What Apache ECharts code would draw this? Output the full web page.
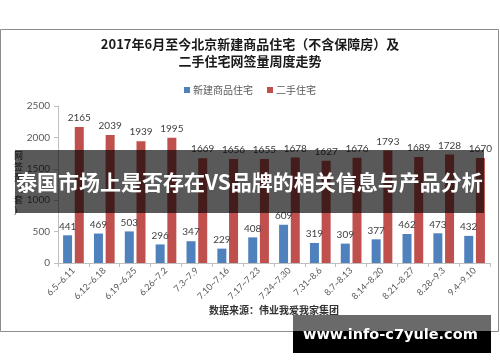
<!DOCTYPE html>
<html><head><meta charset="utf-8">
<script src="https://cdn.jsdelivr.net/npm/echarts@6/dist/echarts.min.js"></script>
<style>html,body{margin:0;padding:0;background:#fff}#c{width:500px;height:362px}</style>
</head><body><div id="c"></div>
<script>
const categories = ['6.5~6.11','6.12~6.18','6.19~6.25','6.26~7.2','7.3~7.9','7.10~7.16','7.17~7.23','7.24~7.30','7.31~8.6','8.7~8.13','8.14~8.20','8.21~8.27','8.28~9.3','9.4~9.10'];
const newHomes = [441,469,503,296,347,229,408,609,319,309,377,462,473,432];
const resale = [2165,2039,1939,1995,1669,1656,1655,1678,1627,1676,1793,1689,1728,1670];
const yTicks = [0,500,1000,1500,2000,2500];
const seriesNames = ['新建商品住宅','二手住宅'];
const titleLines = ['2017年6月至今北京新建商品住宅（不含保障房）及','二手住宅网签量周度走势'];
const yAxisName = '网签量（套）';
const sourceText = '数据来源：伟业我爱我家集团';
const bannerText = '泰国市场上是否存在VS品牌的相关信息与产品分析';
const watermarkText = 'www.info-c7yule.com';

const chart = echarts.init(document.getElementById('c'), null, {renderer:'canvas'});
const numFont = 'Lato, "Noto Sans", sans-serif';
const cjkFont = '"Noto Sans CJK SC", sans-serif';
const labelStyle = {show:true, position:'top', distance:4, color:'#404040', fontSize:10, fontFamily:numFont};
chart.setOption({
  animation:false,
  grid:{left:58, right:10, top:106, bottom:99},
  legend:{
    data:seriesNames, top:80, left:'center', itemWidth:6, itemHeight:6, itemGap:14,
    icon:'rect', textStyle:{color:'#595959', fontSize:10, fontFamily:cjkFont, padding:[0,0,0,-2]}
  },
  xAxis:{
    type:'category', data:categories,
    axisLine:{lineStyle:{color:'#bfbfbf'}},
    axisTick:{show:true, length:4, lineStyle:{color:'#bfbfbf'}},
    axisLabel:{rotate:45, color:'#595959', fontSize:9, fontFamily:numFont, interval:0, margin:6}
  },
  yAxis:{
    type:'value', min:yTicks[0], max:yTicks[yTicks.length-1], interval:500,
    axisLine:{show:true, lineStyle:{color:'#bfbfbf'}},
    axisTick:{show:true, length:4, lineStyle:{color:'#bfbfbf'}},
    splitLine:{show:false},
    axisLabel:{color:'#595959', fontSize:10, fontFamily:numFont, margin:8, formatter:v => String(v)}
  },
  series:[
    {name:seriesNames[0], type:'bar', data:newHomes, barWidth:9, barGap:'30%', itemStyle:{color:'#4f81bd'}, label:labelStyle},
    {name:seriesNames[1], type:'bar', data:resale, barWidth:9, itemStyle:{color:'#c0504d'}, label:labelStyle}
  ],
  graphic:[
    {type:'rect', shape:{x:0.5, y:29.5, width:498, height:302}, style:{fill:'none', stroke:'#8c8c8c', lineWidth:1}, z:0, silent:true},
    {type:'text', left:'center', top:38, style:{text:titleLines[0], font:'bold 13px '+cjkFont, fill:'#1a1a1a'}},
    {type:'text', left:'center', top:55, style:{text:titleLines[1], font:'bold 13px '+cjkFont, fill:'#1a1a1a'}},
    {type:'text', left:14, top:150, style:{text:yAxisName.split('').join('\n'), font:'9px '+cjkFont, fill:'#404040', lineHeight:11}},
    {type:'text', left:209, top:305, style:{text:sourceText, font:'bold 10px '+cjkFont, fill:'#333'}},
    {type:'rect', shape:{x:15, y:150, width:469, height:63}, style:{fill:'rgba(0,0,0,0.65)'}, z:100},
    {type:'text', left:16, top:172, z:101, style:{text:bannerText, font:'bold 21px '+cjkFont, fill:'#fff'}},
    {type:'rect', shape:{x:293, y:315, width:198, height:17}, style:{fill:'#6a6a6a'}, z:100},
    {type:'rect', shape:{x:293, y:331, width:198, height:22}, style:{fill:'#000'}, z:100},
    {type:'text', left:303, top:328, z:101, style:{text:watermarkText, font:'bold 14.5px "DejaVu Sans", sans-serif', fill:'#fff'}}
  ]
});
</script></body></html>
